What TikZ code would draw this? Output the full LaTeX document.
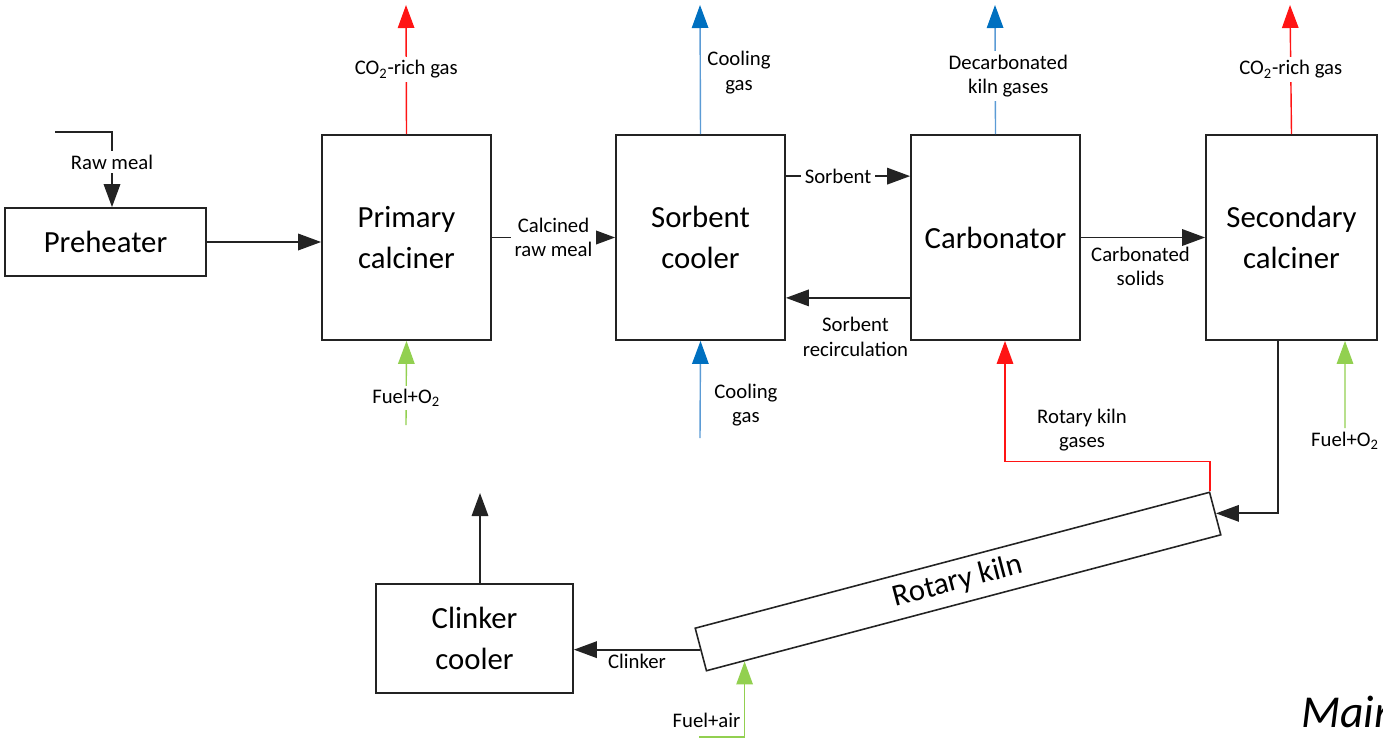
\documentclass[tikz,border=0pt]{standalone}
\usepackage{fontspec}
\setmainfont{Carlito}
\usepackage{tikz}
\usetikzlibrary{arrows.meta, positioning, calc}
\definecolor{rougeGaz}{RGB}{255, 20, 20}
\definecolor{bleuTrait}{RGB}{91, 155, 213}
\definecolor{bleuFleche}{RGB}{0, 112, 192}
\definecolor{vertFuel}{RGB}{146, 208, 80}
\definecolor{griTrait}{RGB}{35, 35, 35}

\begin{document}
\begin{tikzpicture}[
  x=0.2mm, y=-0.2mm,
  unit/.style={rectangle, draw=griTrait, line width=1pt,
    minimum width=33.8mm, minimum height=41mm, align=center,
    font=\fontsize{17.5}{23}\selectfont},
  kilnbox/.style={rectangle, draw=griTrait, line width=0.9pt,
    minimum width=106.4mm, minimum height=8.8mm, inner sep=0pt,
    font=\fontsize{17.5}{20}\selectfont},
  arr/.style={-{Triangle[length=4.6mm, width=3.3mm]}, line width=1pt,
    draw=griTrait},
  arrR/.style={-{Triangle[length=4.6mm, width=3.3mm]}, line width=0.8pt,
    draw=rougeGaz},
  arrB/.style={-{Triangle[length=4.6mm, width=3.3mm, color=bleuFleche]},
    line width=0.8pt, draw=bleuTrait},
  arrG/.style={-{Triangle[length=4.6mm, width=3.3mm]}, line width=0.8pt,
    draw=vertFuel},
  lbl/.style={font=\fontsize{11.8}{14}\selectfont, align=center,
    inner sep=2pt},
  lblw/.style={lbl, fill=white},
]
\useasboundingbox (0,0) rectangle (1383,738);

% process units
\node[unit, minimum width=40.2mm, minimum height=13.6mm] (pre)
  at (105.5,242) {Preheater};
\node[unit] (prim)  at (406.5,237.5) {Primary\\calciner};
\node[unit] (sorb)  at (700.5,237.5) {Sorbent\\cooler};
\node[unit] (carb)  at (995.5,237.5) {Carbonator};
\node[unit, minimum width=34.2mm] (sec)
  at (1291.5,237.5) {Secondary\\calciner};
\node[unit, minimum width=39.4mm, minimum height=21.8mm] (clink)
  at (474.5,638.5) {Clinker\\cooler};
\node[kilnbox, rotate=14.8] (kiln) at (958,581.5) {Rotary kiln};

% free ends
\coordinate (rawin)    at (55,132);
\coordinate (co2a)     at (406,5);
\coordinate (fuela)    at (406,425);
\coordinate (coolout)  at (700,5);
\coordinate (coolin)   at (700,438);
\coordinate (decarb)   at (995,5);
\coordinate (co2b)     at (1290,5);
\coordinate (fuelb)    at (1345,428);
\coordinate (fuelc)    at (699,737);
\coordinate (clinkout) at (480,493);

% solids
\draw[arr] (rawin) -| node[pos=0.7, lblw]{Raw meal}
  ([xshift=1.3mm]pre.north);
\draw[arr] (pre.east) -- (pre.east -| prim.west);
\draw[arr] (prim.east) -- node[lblw]{Calcined\\raw meal} (sorb.west);
\draw[arr] ([yshift=-8.4mm]sorb.north east)
  -- node[pos=0.42, lblw]{Sorbent} ([yshift=-8.4mm]carb.north west);
\draw[arr] ([yshift=8.6mm]carb.south west)
  -- node[pos=0.44, below, lbl, yshift=-3mm]{Sorbent\\recirculation}
  ([yshift=8.6mm]sorb.south east);
\draw[arr] (carb.east) -- node[pos=0.48, below, lbl, yshift=-1mm]
  {Carbonated\\solids} (sec.west);
\draw[arr] ([xshift=-2.7mm]sec.south) |- (kiln.east);
\draw[arr] (kiln.west) -- node[below, lbl]{Clinker}
  (kiln.west -| clink.east);
\draw[arr] ([xshift=1.1mm]clink.north) -- (clinkout);

% gases
\draw[arrR] (prim.north) -- node[lblw]{CO\textsubscript{2}-rich gas} (co2a);
\draw[arrR] (sec.north) -- node[lblw]{CO\textsubscript{2}-rich gas} (co2b);
\draw[arrB] (sorb.north) -- node[right, lbl, xshift=0.6mm, yshift=-0.6mm]
  {Cooling\\gas} (coolout);
\draw[arrB] (coolin) -- node[pos=0.34, right, lbl, xshift=2mm]{Cooling\\gas}
  (sorb.south);
\draw[arrB] (carb.north) -- node[pos=0.45, lblw, xshift=2.6mm]
  {Decarbonated\\kiln gases} (decarb);
\draw[arrR] (kiln.north east) -- ++(0,-30)
  -| node[pos=0.63, right, lbl, xshift=5.6mm]{Rotary kiln\\gases}
  ([xshift=1.9mm]carb.south);

% fuels
\draw[arrG] (fuela) -- node[pos=0.32, lblw]{Fuel+O\textsubscript{2}}
  (prim.south);
\draw[arrG] (fuelb) node[below, lbl]{Fuel+O\textsubscript{2}}
  -- ([xshift=10.7mm]sec.south);
\draw[arrG] (fuelc) -| node[pos=0.61, left, lbl]{Fuel+air}
  ($(kiln.south west)!0.075!(kiln.south east)$);

\node[anchor=west, font=\fontsize{26}{30}\selectfont\itshape] (mainlbl)
  at (1295,712) {Main};
\end{tikzpicture}
\end{document}
